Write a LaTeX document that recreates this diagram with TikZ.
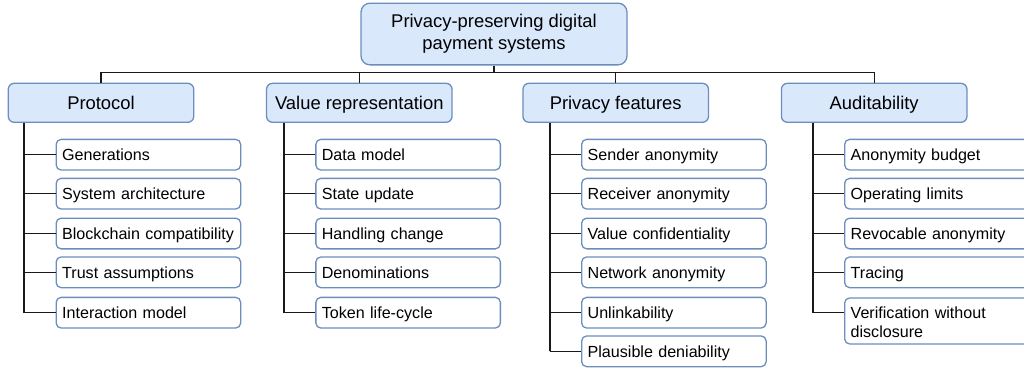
\documentclass[tikz,border=0pt]{standalone}
\usepackage{fontspec}
\setmainfont{Liberation Sans}
\usetikzlibrary{calc}
\definecolor{catfill}{HTML}{DAE8FC}
\definecolor{boxline}{HTML}{6C8EBF}
\begin{document}
\begin{tikzpicture}[x=1pt,y=-1pt,
  rootbox/.style={draw=boxline, fill=catfill, line width=1.3pt, rounded corners=9pt,
    minimum width=266pt, minimum height=61.7pt, align=center, inner sep=0pt,
    font=\fontsize{18.4}{22}\selectfont},
  catbox/.style={draw=boxline, fill=catfill, line width=1.3pt, rounded corners=6pt,
    minimum width=185.5pt, minimum height=39pt, inner sep=0pt,
    text height=14.5pt, text depth=1.9pt,
    font=\fontsize{18.4}{22}\selectfont},
  leaf/.style={draw=boxline, fill=white, line width=1.3pt, rounded corners=5pt,
    minimum width=184.5pt, minimum height=30.7pt, anchor=west, text width=172.5pt,
    text height=14pt, text depth=1.8pt,
    inner xsep=6pt, inner ysep=0pt, align=left, font=\fontsize{16.1}{19}\selectfont},
  link/.style={line width=1.4pt, draw=black!90},
  trunkline/.style={line width=2pt, draw=black!90}]
\useasboundingbox (0,0) rectangle (1024,368);
\clip (0,0) rectangle (1024,368);

% root
\node[rootbox] (root) at (494,34) {Privacy-preserving digital\\payment systems};

% categories
\node[catbox] (c1) at (101,102.8) {Protocol};
\node[catbox] (c2) at (359.3,102.8) {Value representation};
\node[catbox] (c3) at (615.7,102.8) {Privacy features};
\node[catbox] (c4) at (874.2,102.8) {Auditability};

% bus
\coordinate (bus) at (494,72.7);
\draw[link] (root.south) -- (bus);
\draw[link] (c1.north) -- (c1.north |- bus) -- (c4.north |- bus) -- (c4.north);
\draw[link] (c2.north) -- (c2.north |- bus);
\draw[link] (c3.north) -- (c3.north |- bus);

% trunk x positions
\coordinate (t1) at (24,0);
\coordinate (t2) at (284,0);
\coordinate (t3) at (549.7,0);
\coordinate (t4) at (812.7,0);

% Protocol
\node[leaf] (p1) at (55.5,154.7) {Generations};
\node[leaf] (p2) at (55.5,193.7) {System architecture};
\node[leaf] (p3) at (55.5,233.5) {Blockchain compatibility};
\node[leaf] (p4) at (55.5,272.3) {Trust assumptions};
\node[leaf] (p5) at (55.5,312.7) {Interaction model};

% Value representation
\node[leaf] (v1) at (315.2,154.7) {Data model};
\node[leaf] (v2) at (315.2,193.7) {State update};
\node[leaf] (v3) at (315.2,233.5) {Handling change};
\node[leaf] (v4) at (315.2,272.3) {Denominations};
\node[leaf] (v5) at (315.2,312.7) {Token life-cycle};

% Privacy features
\node[leaf] (f1) at (581,154.7) {Sender anonymity};
\node[leaf] (f2) at (581,193.7) {Receiver anonymity};
\node[leaf] (f3) at (581,233.5) {Value confidentiality};
\node[leaf] (f4) at (581,272.3) {Network anonymity};
\node[leaf] (f5) at (581,312.7) {Unlinkability};
\node[leaf] (f6) at (581,351.3) {Plausible deniability};

% Auditability
\node[leaf] (a1) at (844,154.7) {Anonymity budget};
\node[leaf] (a2) at (844,193.7) {Operating limits};
\node[leaf] (a3) at (844,233.5) {Revocable anonymity};
\node[leaf] (a4) at (844,272.3) {Tracing};
\node[leaf, anchor=north west, minimum height=46pt, text depth=19.8pt] (a5) at (844,297.3) {Verification without\\disclosure};
\coordinate (a5in) at ($(a5.north west)+(0,15.4)$);

% trunks
\draw[trunkline] (t1 |- c1.south) -- (t1 |- p5.west);
\draw[trunkline] (t2 |- c2.south) -- (t2 |- v5.west);
\draw[trunkline] (t3 |- c3.south) -- (t3 |- f6.west);
\draw[trunkline] (t4 |- c4.south) -- (t4 |- a5in);

% branches
\foreach \n in {p1,p2,p3,p4,p5} \draw[link] (t1 |- \n.west) -- (\n.west);
\foreach \n in {v1,v2,v3,v4,v5} \draw[link] (t2 |- \n.west) -- (\n.west);
\foreach \n in {f1,f2,f3,f4,f5,f6} \draw[link] (t3 |- \n.west) -- (\n.west);
\foreach \n in {a1,a2,a3,a4} \draw[link] (t4 |- \n.west) -- (\n.west);
\draw[link] (t4 |- a5in) -- (a5in);
\end{tikzpicture}
\end{document}
